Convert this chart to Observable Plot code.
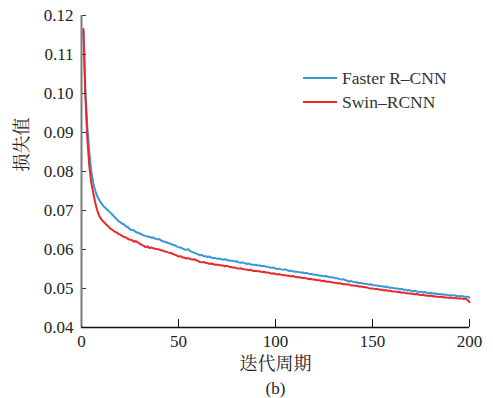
<!DOCTYPE html>
<html><head><meta charset="utf-8">
<script src="https://cdn.jsdelivr.net/npm/d3@7"></script>
<script src="https://cdn.jsdelivr.net/npm/@observablehq/plot@0.6"></script>
<style>
body{margin:0;background:#fff;}
#wrap{position:relative;width:493px;height:398px;font-family:'Liberation Serif','Noto Serif CJK SC',serif;color:#222;}
.lg{position:absolute;left:303px;height:24px;display:flex;align-items:center;font-size:17.5px;color:#333;white-space:nowrap;}
.lg span.sw{display:inline-block;width:34px;height:2px;margin-right:5px;}
</style></head><body><div id="wrap"></div>
<script>
const seriesNames = ["Faster R–CNN", "Swin–RCNN"];
const seriesColors = ["#3a96d6", "#e8282b"];
const xTicks = [0, 50, 100, 150, 200];
const yTicks = [0.04, 0.05, 0.06, 0.07, 0.08, 0.09, 0.10, 0.11, 0.12];
const xLabel = "迭代周期";
const yLabel = "损失值";
const caption = "(b)";

const fasterRCNN = [
0.1160,0.1010,0.0915,0.0850,0.0802,0.0772,0.0752,0.0738,0.0728,0.0720,
0.0713,0.0708,0.0703,0.0699,0.0694,0.0689,0.0683,0.0679,0.0673,0.0670,
0.0666,0.0664,0.0659,0.0657,0.0652,0.0650,0.0649,0.0645,0.0643,0.0641,
0.0639,0.0636,0.0635,0.0633,0.0633,0.0630,0.0631,0.0628,0.0626,0.0627,
0.0623,0.0621,0.0620,0.0618,0.0616,0.0615,0.0612,0.0611,0.0608,0.0606,
0.0605,0.0603,0.0600,0.0599,0.0601,0.0596,0.0594,0.0592,0.0590,0.0588,
0.0585,0.0586,0.0583,0.0583,0.0581,0.0582,0.0579,0.0578,0.0578,0.0576,
0.0577,0.0575,0.0574,0.0575,0.0573,0.0572,0.0571,0.0571,0.0569,0.0570,
0.0567,0.0566,0.0567,0.0565,0.0563,0.0564,0.0562,0.0561,0.0561,0.0560,
0.0559,0.0559,0.0557,0.0558,0.0556,0.0556,0.0554,0.0553,0.0554,0.0551,
0.0550,0.0551,0.0549,0.0548,0.0549,0.0547,0.0545,0.0546,0.0544,0.0543,
0.0543,0.0542,0.0541,0.0541,0.0539,0.0540,0.0538,0.0537,0.0537,0.0535,
0.0535,0.0534,0.0533,0.0533,0.0531,0.0532,0.0530,0.0529,0.0529,0.0528,
0.0526,0.0526,0.0524,0.0523,0.0524,0.0521,0.0520,0.0518,0.0519,0.0517,
0.0516,0.0516,0.0514,0.0514,0.0513,0.0512,0.0512,0.0510,0.0511,0.0509,
0.0508,0.0508,0.0507,0.0506,0.0506,0.0504,0.0505,0.0503,0.0502,0.0502,
0.0501,0.0500,0.0500,0.0498,0.0499,0.0497,0.0497,0.0495,0.0496,0.0494,
0.0493,0.0494,0.0492,0.0491,0.0492,0.0490,0.0491,0.0489,0.0488,0.0489,
0.0487,0.0488,0.0486,0.0486,0.0485,0.0485,0.0484,0.0484,0.0483,0.0483,
0.0482,0.0483,0.0481,0.0481,0.0480,0.0481,0.0479,0.0479,0.0479,0.0477
];
const swinRCNN = [
0.1166,0.0990,0.0885,0.0815,0.0772,0.0746,0.0722,0.0702,0.0688,0.0679,
0.0673,0.0668,0.0663,0.0658,0.0653,0.0650,0.0646,0.0644,0.0640,0.0638,
0.0635,0.0632,0.0631,0.0627,0.0625,0.0624,0.0620,0.0622,0.0618,0.0615,
0.0612,0.0610,0.0606,0.0608,0.0604,0.0605,0.0603,0.0602,0.0601,0.0600,
0.0598,0.0597,0.0595,0.0594,0.0592,0.0591,0.0589,0.0587,0.0585,0.0582,
0.0583,0.0580,0.0579,0.0577,0.0578,0.0576,0.0574,0.0575,0.0573,0.0571,
0.0568,0.0567,0.0568,0.0566,0.0565,0.0563,0.0564,0.0562,0.0561,0.0561,
0.0560,0.0559,0.0559,0.0557,0.0558,0.0556,0.0555,0.0554,0.0554,0.0552,
0.0551,0.0552,0.0550,0.0549,0.0549,0.0547,0.0548,0.0546,0.0545,0.0545,
0.0544,0.0544,0.0542,0.0543,0.0541,0.0541,0.0540,0.0538,0.0539,0.0537,
0.0536,0.0537,0.0535,0.0534,0.0534,0.0533,0.0533,0.0531,0.0532,0.0530,
0.0529,0.0529,0.0528,0.0527,0.0527,0.0526,0.0524,0.0525,0.0523,0.0523,
0.0522,0.0521,0.0521,0.0519,0.0520,0.0518,0.0517,0.0517,0.0516,0.0515,
0.0515,0.0513,0.0514,0.0512,0.0511,0.0511,0.0510,0.0510,0.0508,0.0508,
0.0507,0.0507,0.0505,0.0505,0.0504,0.0503,0.0503,0.0501,0.0500,0.0500,
0.0499,0.0499,0.0498,0.0497,0.0497,0.0495,0.0496,0.0494,0.0494,0.0493,
0.0492,0.0492,0.0491,0.0491,0.0489,0.0490,0.0488,0.0488,0.0487,0.0487,
0.0486,0.0485,0.0486,0.0484,0.0483,0.0484,0.0482,0.0482,0.0481,0.0482,
0.0480,0.0480,0.0479,0.0479,0.0478,0.0479,0.0477,0.0477,0.0476,0.0477,
0.0476,0.0475,0.0476,0.0474,0.0475,0.0474,0.0473,0.0474,0.0471,0.0465
];

const toRows = arr => arr.map((v, i) => ({epoch: i + 1, loss: v}));
const W = 493, H = 398, ML = 81, MR = 24, MT = 15, MB = 71;
const PW = W - ML - MR, PH = H - MT - MB;
const FONT = "'Liberation Serif','Noto Serif CJK SC',serif";

const chart = Plot.plot({
  width: W, height: H,
  marginLeft: ML, marginRight: MR, marginTop: MT, marginBottom: MB,
  style: {fontFamily: FONT, fontSize: "17px", color: "#222", background: "transparent"},
  x: {domain: [0, 200]},
  y: {domain: [0.04, 0.12]},
  marks: [
    Plot.line(toRows(fasterRCNN), {x: "epoch", y: "loss", stroke: seriesColors[0], strokeWidth: 2}),
    Plot.line(toRows(swinRCNN), {x: "epoch", y: "loss", stroke: seriesColors[1], strokeWidth: 2}),
    Plot.tickY(yTicks, {y: d => d, insetRight: PW - 5, stroke: "#333", strokeWidth: 1}),
    Plot.tickX(xTicks.slice(1), {x: d => d, insetTop: PH - 8, stroke: "#111", strokeWidth: 1}),
    Plot.ruleX([0], {stroke: "#7a7a7a", strokeWidth: 2}),
    Plot.ruleY([0.04], {stroke: "#111", strokeWidth: 1.5}),
    Plot.axisY(yTicks, {tickSize: 0, tickPadding: 8, tickFormat: d => d.toFixed(2), label: null, fontSize: 17, fontFamily: FONT}),
    Plot.axisX(xTicks, {tickSize: 0, tickPadding: 7, label: null, fontSize: 17, fontFamily: FONT}),
    Plot.text([xLabel], {frameAnchor: "bottom", dy: 37, lineAnchor: "middle", fontSize: 18, fill: "#222", fontFamily: FONT}),
    Plot.text([caption], {frameAnchor: "bottom", dy: 61, lineAnchor: "middle", fontSize: 17, fill: "#222", fontFamily: FONT}),
    Plot.text([yLabel], {frameAnchor: "left", dx: -59, rotate: -90, lineAnchor: "middle", fontSize: 18, fill: "#222", fontFamily: FONT})
  ]
});
const wrap = document.getElementById("wrap");
wrap.appendChild(chart);
const legendTops = [66, 90];
seriesNames.forEach((name, i) => {
  const row = document.createElement("div");
  row.className = "lg";
  row.style.top = legendTops[i] + "px";
  row.innerHTML = `<span class="sw" style="background:${seriesColors[i]}"></span><span>${name}</span>`;
  wrap.appendChild(row);
});
</script>
</body></html>
